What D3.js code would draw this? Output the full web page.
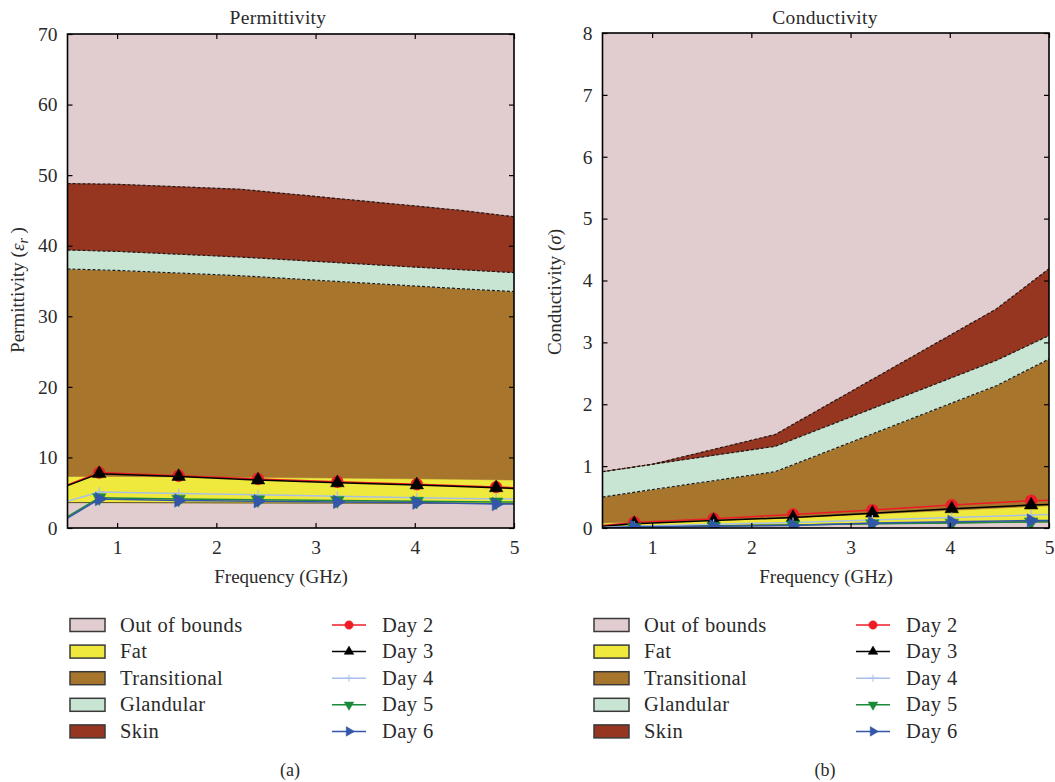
<!DOCTYPE html>
<html>
<head>
<meta charset="utf-8">
<script src="https://cdn.jsdelivr.net/npm/d3@7"></script>
<style>
  body { margin: 0; background: #ffffff; }
  svg text { font-family: "Liberation Serif", "Times New Roman", serif; fill: #2a2a2a; }
</style>
</head>
<body>
<svg id="chart" width="1055" height="782"></svg>
<script>
// ---- Tissue band boundaries (frequency in GHz) ----
const bandFreq = [0.5, 1.0, 2.24, 4.47, 5.0];

// Permittivity bands
const permFatLow    = [3.6, 3.6, 3.55, 3.5, 3.45];
const permFatHigh   = [7.3, 7.3, 7.2, 6.9, 6.8];
const permTransHigh = [36.7, 36.5, 35.75, 33.9, 33.5];
const permGlandHigh = [39.4, 39.2, 38.4, 36.6, 36.2];
const permSkinHigh  = [48.8, 48.7, 48.0, 45.0, 44.1];

// Conductivity bands
const condFatLow    = [0.03, 0.03, 0.05, 0.09, 0.10];
const condFatHigh   = [0.08, 0.10, 0.15, 0.32, 0.36];
const condTransHigh = [0.50, 0.62, 0.91, 2.30, 2.73];
const condGlandHigh = [0.91, 1.03, 1.32, 2.71, 3.11];
const condSkinHigh  = [0.91, 1.03, 1.51, 3.54, 4.19];

// ---- Daily measurements ----
const dayFreq = [0.5, 0.82, 1.62, 2.42, 3.22, 4.02, 4.82, 5.0];
const markerIdx = [1, 2, 3, 4, 5, 6];

const permDay2 = [6.1, 7.85, 7.4, 6.95, 6.55, 6.2, 5.8, 5.7];
const permDay3 = [6.0, 7.7, 7.3, 6.8, 6.4, 6.1, 5.7, 5.6];
const permDay4 = [3.8, 5.1, 4.9, 4.7, 4.5, 4.3, 4.1, 4.1];
const permDay5 = [1.6, 4.3, 4.1, 4.0, 3.9, 3.8, 3.7, 3.7];
const permDay6 = [1.4, 4.1, 3.9, 3.8, 3.7, 3.6, 3.4, 3.4];

const condDay2 = [0.04, 0.09, 0.15, 0.22, 0.29, 0.37, 0.44, 0.45];
const condDay3 = [0.03, 0.07, 0.12, 0.17, 0.24, 0.31, 0.37, 0.38];
const condDay4 = [0.01, 0.03, 0.06, 0.09, 0.13, 0.17, 0.21, 0.22];
const condDay5 = [0.00, 0.01, 0.03, 0.05, 0.07, 0.08, 0.10, 0.10];
const condDay6 = [0.00, 0.02, 0.03, 0.04, 0.08, 0.10, 0.12, 0.12];

// ---- Axis ticks and labels ----
const freqTicks = [1, 2, 3, 4, 5];
const permTicks = [0, 10, 20, 30, 40, 50, 60, 70];
const condTicks = [0, 1, 2, 3, 4, 5, 6, 7, 8];

const tissueNames = ["Out of bounds", "Fat", "Transitional", "Glandular", "Skin"];
const dayNames = ["Day 2", "Day 3", "Day 4", "Day 5", "Day 6"];

// ---- Styling ----
const tissueColor = {
  "Out of bounds": "#e1cccf",
  "Fat": "#eee93c",
  "Transitional": "#a7762c",
  "Glandular": "#c8e4d2",
  "Skin": "#963620"
};

// thin "+" marker drawn as two strokes
const symbolPlus = {
  draw(ctx, size) {
    const r = Math.sqrt(size) / 2;
    ctx.moveTo(-r, 0); ctx.lineTo(r, 0);
    ctx.moveTo(0, -r); ctx.lineTo(0, r);
  }
};

const dayStyle = [
  { color: "#ee1c25", symbol: d3.symbolCircle, size: 110, rot: 0, fill: true },
  { color: "#000000", symbol: d3.symbolTriangle, size: 80, rot: 0, fill: true },
  { color: "#a9bfe8", symbol: symbolPlus, size: 100, rot: 0, fill: false },
  { color: "#1a8a3a", symbol: d3.symbolTriangle, size: 80, rot: 180, fill: true },
  { color: "#3356a8", symbol: d3.symbolTriangle, size: 80, rot: 90, fill: true }
];

const svg = d3.select("#chart");

function drawPanel(cfg) {
  const x = d3.scaleLinear().domain([0.5, 5]).range([cfg.left, cfg.right]);
  const y = d3.scaleLinear().domain([0, cfg.yMax]).range([cfg.bottom, cfg.top]);
  const g = svg.append("g");

  g.append("clipPath").attr("id", cfg.id + "-clip")
    .append("rect")
    .attr("x", cfg.left).attr("y", cfg.top)
    .attr("width", cfg.right - cfg.left).attr("height", cfg.bottom - cfg.top);

  const plot = g.append("g").attr("clip-path", `url(#${cfg.id}-clip)`);

  // background: out of bounds
  plot.append("rect")
    .attr("x", cfg.left).attr("y", cfg.top)
    .attr("width", cfg.right - cfg.left).attr("height", cfg.bottom - cfg.top)
    .attr("fill", tissueColor["Out of bounds"]);

  const bands = [
    { name: "Fat", lo: cfg.fatLow, hi: cfg.fatHigh },
    { name: "Transitional", lo: cfg.fatHigh, hi: cfg.transHigh },
    { name: "Glandular", lo: cfg.transHigh, hi: cfg.glandHigh },
    { name: "Skin", lo: cfg.glandHigh, hi: cfg.skinHigh }
  ];
  bands.forEach(b => {
    const pts = bandFreq.map((f, i) => ({ f, lo: b.lo[i], hi: b.hi[i] }));
    plot.append("path")
      .datum(pts)
      .attr("fill", tissueColor[b.name])
      .attr("stroke", tissueColor[b.name])
      .attr("stroke-width", 0.5)
      .attr("d", d3.area().x(d => x(d.f)).y0(d => y(d.lo)).y1(d => y(d.hi)));
  });

  // band edges
  const edge = d3.line().x(d => x(d.f)).y(d => y(d.v));
  [cfg.fatLow].forEach(arr => {
    plot.append("path").datum(bandFreq.map((f, i) => ({ f, v: arr[i] })))
      .attr("fill", "none").attr("stroke", "#5c4a24").attr("stroke-width", 1)
      .attr("d", edge);
  });
  [cfg.transHigh, cfg.glandHigh, cfg.skinHigh].forEach(arr => {
    plot.append("path").datum(bandFreq.map((f, i) => ({ f, v: arr[i] })))
      .attr("fill", "none").attr("stroke", "#1a1a1a").attr("stroke-width", 1.2)
      .attr("stroke-dasharray", "3,2")
      .attr("d", edge);
  });

  // day series
  cfg.days.forEach((vals, k) => {
    const st = dayStyle[k];
    const pts = dayFreq.map((f, i) => ({ f, v: vals[i] }));
    plot.append("path").datum(pts)
      .attr("fill", "none").attr("stroke", st.color).attr("stroke-width", 1.5)
      .attr("d", d3.line().x(d => x(d.f)).y(d => y(d.v)));
    plot.selectAll(null).data(markerIdx.map(i => pts[i])).enter()
      .append("path")
      .attr("d", d3.symbol().type(st.symbol).size(st.size))
      .attr("transform", d => `translate(${x(d.f)},${y(d.v)}) rotate(${st.rot})`)
      .attr("fill", st.fill ? st.color : "none")
      .attr("stroke", st.color)
      .attr("stroke-width", st.fill ? 0.5 : 1.2);
  });

  // axes with inward ticks on all sides
  const tickLen = 5;
  const axB = d3.axisBottom(x).tickValues(freqTicks).tickSize(-tickLen).tickPadding(12).tickFormat(d3.format("d"));
  const axT = d3.axisTop(x).tickValues(freqTicks).tickSize(-tickLen).tickFormat("");
  const axL = d3.axisLeft(y).tickValues(cfg.yTicks).tickSize(-tickLen).tickPadding(10).tickFormat(d3.format("d"));
  const axR = d3.axisRight(y).tickValues(cfg.yTicks).tickSize(-tickLen).tickFormat("");

  const styleAxis = sel => {
    sel.select(".domain").remove();
    sel.selectAll(".tick line").attr("stroke", "#000").attr("stroke-width", 1.2);
    sel.selectAll(".tick text").attr("font-size", 19.5)
      .attr("font-family", "'Liberation Serif', serif").attr("fill", "#2a2a2a");
  };
  g.append("g").attr("transform", `translate(0,${cfg.bottom})`).call(axB).call(styleAxis);
  g.append("g").attr("transform", `translate(0,${cfg.top})`).call(axT).call(styleAxis);
  g.append("g").attr("transform", `translate(${cfg.left},0)`).call(axL).call(styleAxis);
  g.append("g").attr("transform", `translate(${cfg.right},0)`).call(axR).call(styleAxis);

  // frame
  g.append("rect")
    .attr("x", cfg.left).attr("y", cfg.top)
    .attr("width", cfg.right - cfg.left).attr("height", cfg.bottom - cfg.top)
    .attr("fill", "none").attr("stroke", "#000").attr("stroke-width", 1.6);

  // titles
  g.append("text").attr("x", cfg.titleX).attr("y", 24).attr("text-anchor", "middle")
    .attr("font-size", 19.5).attr("letter-spacing", 0.3).text(cfg.title);
  g.append("text").attr("x", cfg.xLabelX).attr("y", 583).attr("text-anchor", "middle")
    .attr("font-size", 19).text("Frequency (GHz)");

  const yl = g.append("text")
    .attr("transform", `translate(${cfg.yLabelX},${cfg.yLabelY}) rotate(-90)`)
    .attr("text-anchor", "middle").attr("font-size", 19);
  cfg.yLabel(yl);

  g.append("text").attr("x", cfg.captionX).attr("y", 776).attr("text-anchor", "middle")
    .attr("font-size", 18).text(cfg.caption);

  // legend
  const lx = cfg.legendX;
  const rowY = d3.range(5).map(i => 625 + i * 26.6);
  tissueNames.forEach((name, i) => {
    g.append("rect").attr("x", lx).attr("y", rowY[i] - 6.5).attr("width", 35).attr("height", 13)
      .attr("fill", tissueColor[name]).attr("stroke", "#3a3a3a").attr("stroke-width", 1.5);
    g.append("text").attr("x", lx + 50).attr("y", rowY[i] + 6.5).attr("font-size", 20.5)
      .attr("letter-spacing", 0.4).text(name);
  });
  dayNames.forEach((name, i) => {
    const st = dayStyle[i];
    g.append("line").attr("x1", lx + 262).attr("x2", lx + 296).attr("y1", rowY[i]).attr("y2", rowY[i])
      .attr("stroke", st.color).attr("stroke-width", 1.5);
    g.append("path").attr("d", d3.symbol().type(st.symbol).size(st.size * 0.5))
      .attr("transform", `translate(${lx + 279},${rowY[i]}) rotate(${st.rot})`)
      .attr("fill", st.fill ? st.color : "none").attr("stroke", st.color)
      .attr("stroke-width", st.fill ? 0.5 : 1);
    g.append("text").attr("x", lx + 312).attr("y", rowY[i] + 6.5).attr("font-size", 20.5)
      .attr("letter-spacing", 0.4).text(name);
  });
}

drawPanel({
  id: "perm", left: 67.5, right: 514, top: 34, bottom: 528, yMax: 70, yTicks: permTicks,
  fatLow: permFatLow, fatHigh: permFatHigh, transHigh: permTransHigh,
  glandHigh: permGlandHigh, skinHigh: permSkinHigh,
  days: [permDay2, permDay3, permDay4, permDay5, permDay6],
  title: "Permittivity", titleX: 278, xLabelX: 281,
  yLabelX: 24, yLabelY: 290,
  yLabel: t => {
    t.append("tspan").text("Permittivity (");
    t.append("tspan").attr("font-style", "italic").text("ε");
    t.append("tspan").attr("font-style", "italic").attr("font-size", 14).attr("dy", 4).text("r");
    t.append("tspan").attr("dy", -4).text(" )");
  },
  caption: "(a)", captionX: 290, legendX: 70
});

drawPanel({
  id: "cond", left: 602.5, right: 1049, top: 33, bottom: 528, yMax: 8, yTicks: condTicks,
  fatLow: condFatLow, fatHigh: condFatHigh, transHigh: condTransHigh,
  glandHigh: condGlandHigh, skinHigh: condSkinHigh,
  days: [condDay2, condDay3, condDay4, condDay5, condDay6],
  title: "Conductivity", titleX: 825, xLabelX: 826,
  yLabelX: 561, yLabelY: 292,
  yLabel: t => {
    t.append("tspan").text("Conductivity (");
    t.append("tspan").attr("font-style", "italic").text("σ");
    t.append("tspan").text(")");
  },
  caption: "(b)", captionX: 825, legendX: 594
});
</script>
</body>
</html>
